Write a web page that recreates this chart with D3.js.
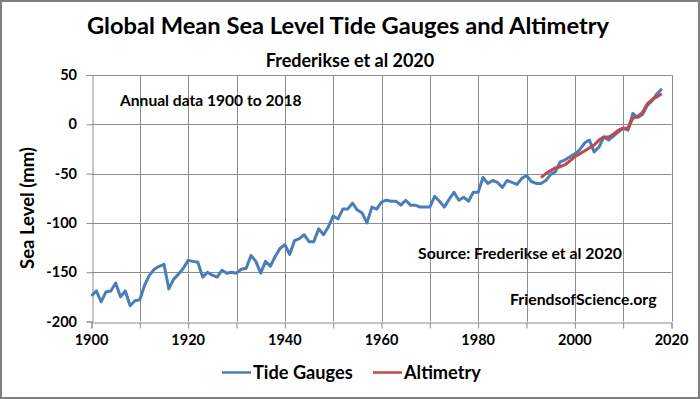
<!DOCTYPE html>
<html>
<head>
<meta charset="utf-8">
<script src="https://cdn.jsdelivr.net/npm/d3@7"></script>
<style>
  body { margin: 0; background: #fff; }
  text { font-family: Lato, "Open Sans", sans-serif; font-weight: bold; fill: #000; }
</style>
</head>
<body>
<div id="chart"></div>
<script>
// annual global mean sea level, mm
const tideYears = d3.range(1900, 2019);
const tideValues = [
  -174, -169, -180, -170, -169, -161, -175, -169, -184, -179,
  -178, -163, -153, -147, -144, -142, -167, -157, -152, -146,
  -138, -139, -140, -155, -150, -153, -155, -148, -151, -150,
  -151, -147, -146, -133, -139, -151, -139, -144, -134, -126,
  -122, -132, -118, -116, -112, -119, -119, -106, -112, -104,
  -93, -96, -86, -86, -80, -87, -90, -100, -84, -86,
  -79, -77, -78, -78, -82, -77, -82, -82, -84, -84,
  -84, -73, -78, -84, -76, -69, -77, -74, -78, -69,
  -69, -54, -60, -57, -59, -64, -57, -59, -61, -55,
  -52, -58, -60, -60, -57, -51, -48, -38, -36, -33,
  -30, -26, -19, -16, -28, -23, -13, -16, -12, -8,
  -4, -6, 11, 7, 10, 19, 24, 31, 36
];

const altYears = d3.range(1993, 2019);
const altValues = [
  -54, -50, -47, -44, -43, -41, -37, -33, -30, -27,
  -24, -21, -16, -13, -13, -10, -6, -4, -4, 6,
  8, 12, 21, 25, 28, 31
];

const xTicks = [1900, 1920, 1940, 1960, 1980, 2000, 2020];
const xGrid = d3.range(1900, 2021, 10);
const yTicks = [-200, -150, -100, -50, 0, 50];

const seriesNames = ["Tide Gauges", "Altimetry"];
const seriesColors = ["#4a7ebb", "#be4b48"];

var W = 700, H = 399;
var margin = {top: 75, right: 28.5, bottom: 77.5, left: 91.5};

var svg = d3.select("#chart").append("svg")
  .attr("width", W)
  .attr("height", H);

// outer frame
svg.append("rect")
  .attr("x", 1).attr("y", 1)
  .attr("width", W - 2).attr("height", H - 2)
  .attr("fill", "#fff")
  .attr("stroke", "#7f7f7f")
  .attr("stroke-width", 2);

var x = d3.scaleLinear().domain([1900, 2020]).range([margin.left, W - margin.right]);
var y = d3.scaleLinear().domain([-200, 50]).range([H - margin.bottom, margin.top]);

// grid
var grid = svg.append("g").attr("stroke", "#8c8c8c").attr("stroke-width", 1);
grid.selectAll("line.v")
  .data(xGrid.slice(1))
  .enter().append("line")
  .attr("x1", d => Math.round(x(d)) + 0.5).attr("x2", d => Math.round(x(d)) + 0.5)
  .attr("y1", y(50)).attr("y2", y(-200));
grid.selectAll("line.h")
  .data(yTicks.slice(1))
  .enter().append("line")
  .attr("y1", d => Math.round(y(d)) + 0.5).attr("y2", d => Math.round(y(d)) + 0.5)
  .attr("x1", x(1900)).attr("x2", x(2020));

// axes
var xAxis = svg.append("g")
  .attr("transform", "translate(0," + (Math.round(y(-200)) + 0.5) + ")")
  .call(d3.axisBottom(x).tickValues(xGrid).tickSize(6).tickFormat(""));
var yAxis = svg.append("g")
  .attr("transform", "translate(" + (Math.round(x(1900)) + 0.5) + ",0)")
  .call(d3.axisLeft(y).tickValues(yTicks).tickSize(6).tickFormat(""));
[xAxis, yAxis].forEach(function(a) {
  a.select(".domain").attr("stroke", "#8c8c8c");
  a.selectAll(".tick line").attr("stroke", "#8c8c8c");
});

svg.append("g").selectAll("text")
  .data(xTicks)
  .enter().append("text")
  .attr("x", d => x(d))
  .attr("y", 345)
  .attr("text-anchor", "middle")
  .attr("font-size", 14.5)
  .text(d => d);

svg.append("g").selectAll("text")
  .data(yTicks)
  .enter().append("text")
  .attr("x", 77)
  .attr("y", d => y(d))
  .attr("dy", "0.35em")
  .attr("text-anchor", "end")
  .attr("font-size", 14.5)
  .text(d => d);

// series
var line = d3.line()
  .x(d => x(d[0]))
  .y(d => y(d[1]));

svg.append("path")
  .datum(d3.zip(tideYears, tideValues))
  .attr("fill", "none")
  .attr("stroke", seriesColors[0])
  .attr("stroke-width", 3)
  .attr("stroke-linejoin", "round")
  .attr("d", line);

svg.append("path")
  .datum(d3.zip(altYears, altValues))
  .attr("fill", "none")
  .attr("stroke", seriesColors[1])
  .attr("stroke-width", 3)
  .attr("stroke-linejoin", "round")
  .attr("d", line);

// titles
svg.append("text")
  .attr("x", 348).attr("y", 34)
  .attr("text-anchor", "middle")
  .attr("font-size", 23.7)
  .text("Global Mean Sea Level Tide Gauges and Altimetry");
svg.append("text")
  .attr("x", 350).attr("y", 67)
  .attr("text-anchor", "middle")
  .attr("font-size", 18)
  .text("Frederikse et al 2020");

svg.append("text")
  .attr("transform", "translate(34,208) rotate(-90)")
  .attr("text-anchor", "middle")
  .attr("font-size", 18.5)
  .text("Sea Level (mm)");

// notes
svg.append("text").attr("x", 120).attr("y", 106).attr("font-size", 15.6).text("Annual data 1900 to 2018");
svg.append("text").attr("x", 418).attr("y", 259).attr("font-size", 15.8).text("Source: Frederikse et al 2020");
svg.append("text").attr("x", 510).attr("y", 305).attr("font-size", 15.8).text("FriendsofScience.org");

// legend
var legX = [222, 373];
var leg = svg.append("g").selectAll("g")
  .data(seriesNames)
  .enter().append("g")
  .attr("transform", (d, i) => "translate(" + legX[i] + ",372.5)");
leg.append("line")
  .attr("x1", 0).attr("x2", 29)
  .attr("stroke", (d, i) => seriesColors[i])
  .attr("stroke-width", 2.5);
leg.append("text")
  .attr("x", 31)
  .attr("dy", "0.35em")
  .attr("font-size", 18.2)
  .text(d => d);
</script>
</body>
</html>
